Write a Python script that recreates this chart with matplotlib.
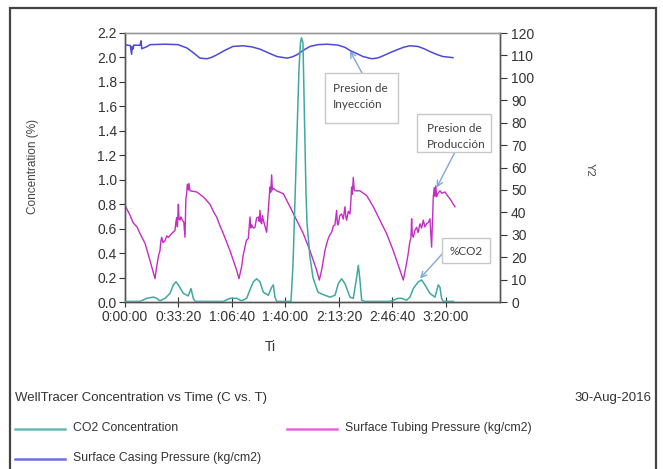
import matplotlib
matplotlib.use("Agg")
import matplotlib.pyplot as plt
import matplotlib.patches as patches
from matplotlib.ticker import FuncFormatter, MultipleLocator

plt.rcParams["font.family"] = ["Liberation Sans", "DejaVu Sans"]

# time in seconds from start of test
t_co2 = [0, 561, 810, 1059, 1184, 1308, 1495, 1682, 1807, 1906, 1994, 2181,
         2367, 2467, 2554, 2617, 2804, 3676, 3925, 4174, 4361, 4548, 4673,
         4797, 4922, 5046, 5171, 5358, 5482, 5545, 5607, 5669, 6105, 6205,
         6280, 6392, 6504, 6560, 6598, 6654, 6710, 6766, 6803, 6915, 7028,
         7214, 7414, 7663, 7850, 7974, 8099, 8224, 8411, 8535, 8660, 8722,
         8784, 8847, 8971, 9906, 10030, 10217, 10342, 10529, 10653, 10778,
         10965, 11090, 11214, 11401, 11588, 11712, 11775, 11837, 11899, 12273]
co2 = [0.005, 0.005, 0.03, 0.04, 0.03, 0.01, 0.03, 0.07, 0.14, 0.165, 0.14,
       0.07, 0.05, 0.11, 0.03, 0.005, 0.005, 0.005, 0.03, 0.03, 0.01, 0.03,
       0.10, 0.165, 0.19, 0.165, 0.08, 0.055, 0.12, 0.14, 0.04, 0.005, 0.005,
       0.005, 0.3, 1.1, 1.9, 2.12, 2.16, 2.12, 1.5, 0.9, 0.65, 0.37, 0.2,
       0.08, 0.06, 0.04, 0.055, 0.15, 0.19, 0.15, 0.04, 0.03, 0.20, 0.30,
       0.18, 0.015, 0.005, 0.005, 0.015, 0.03, 0.03, 0.015, 0.04, 0.11,
       0.165, 0.18, 0.14, 0.07, 0.04, 0.14, 0.12, 0.03, 0.005, 0.005]

t_tub = [0, 187, 300, 374, 450, 561, 748, 934, 1121, 1184, 1260, 1308, 1340,
         1371, 1420, 1495, 1560, 1620, 1682, 1780, 1869, 1900, 1931, 1960,
         1994, 2020, 2056, 2090, 2118, 2200, 2243, 2275, 2305, 2330, 2367,
         2390, 2430, 2679, 2928, 3177, 3300, 3427, 3550, 3676, 3925, 4174,
         4261, 4361, 4420, 4486, 4540, 4610, 4673, 4705, 4735, 4800, 4859,
         4920, 4984, 5020, 5046, 5080, 5109, 5140, 5171, 5296, 5420, 5450,
         5482, 5510, 5545, 5669, 5919, 6168, 6417, 6666, 6915, 7165, 7264,
         7351, 7476, 7540, 7601, 7660, 7725, 7790, 7850, 7912, 7940, 7974,
         8030, 8099, 8160, 8224, 8255, 8286, 8350, 8411, 8440, 8473, 8500,
         8535, 8570, 8597, 8784, 9034, 9283, 9532, 9781, 10030, 10280, 10404,
         10504, 10591, 10650, 10690, 10716, 10740, 10778, 10840, 10903, 10960,
         11027, 11090, 11152, 11210, 11276, 11340, 11401, 11463, 11526, 11560,
         11588, 11620, 11650, 11700, 11775, 11850, 11962, 12050, 12148, 12335]
tub = [43.1, 38.7, 35.5, 34.4, 33.5, 30.5, 26.2, 18.5, 10.4, 15.8, 21.0,
       22.9, 27.0, 28.9, 26.5, 27.3, 29.5, 28.8, 29.7, 31.0, 31.9, 35.5, 37.6,
       33.5, 43.6, 37.0, 36.5, 38.0, 37.1, 35.5, 28.9, 46.0, 48.3, 52.5, 50.0,
       52.9, 49.6, 49.1, 46.9, 43.6, 40.5, 37.9, 34.0, 30.5, 22.9, 14.2, 10.4,
       15.8, 21.0, 24.5, 27.5, 28.4, 37.9, 33.0, 34.4, 33.0, 33.3, 37.5, 37.9,
       36.0, 40.9, 35.5, 34.9, 38.5, 36.5, 31.1, 51.3, 49.0, 56.7, 50.0, 50.7,
       49.6, 48.3, 42.5, 36.5, 30.5, 22.9, 14.2, 9.8, 14.2, 22.9, 26.0, 28.4,
       30.0, 31.1, 34.0, 34.4, 40.9, 35.0, 34.4, 38.5, 39.3, 37.0, 42.5, 38.0,
       36.5, 40.5, 39.3, 44.0, 51.3, 48.0, 55.6, 50.0, 49.6, 49.6, 47.5, 42.5,
       36.5, 30.5, 22.9, 14.2, 9.8, 15.8, 21.8, 27.0, 28.5, 37.1, 30.0, 28.9,
       32.0, 33.3, 31.0, 34.9, 33.0, 36.5, 33.5, 34.9, 35.5, 37.1, 24.5, 46.9,
       51.0, 47.0, 51.8, 46.9, 48.5, 49.6, 48.5, 49.1, 47.5, 46.1, 42.5]

t_cas = [0, 200, 245, 275, 300, 330, 560, 600, 625, 800, 935, 1495, 1981,
         2318, 2542, 2804, 3065, 3252, 3439, 3738, 4037, 4411, 4747, 5046,
         5345, 5682, 6056, 6243, 6429, 6654, 6915, 7214, 7551, 7962, 8224,
         8411, 8672, 8897, 9233, 9457, 9644, 9906, 10168, 10429, 10653,
         10952, 11177, 11401, 11663, 11887, 12261]
cas = [114.7, 114.4, 110.5, 114.0, 112.8, 114.6, 114.5, 116.5, 113.0, 113.8,
       114.8, 115.0, 114.8, 113.3, 111.3, 108.8, 108.5, 109.2, 110.3, 112.3,
       114.0, 114.3, 113.8, 112.8, 111.2, 109.5, 108.8, 109.3, 110.3, 112.2,
       114.0, 114.8, 115.0, 114.6, 113.6, 112.2, 110.8, 109.5, 108.5, 108.9,
       109.8, 111.2, 112.5, 113.7, 114.3, 114.0, 113.0, 111.7, 110.4, 109.5,
       109.0]

x_ticks = [0, 2000, 4000, 6000, 8000, 10000, 12000]

c_co2 = "#3fa9a0"
c_tub = "#c42cc4"
c_cas = "#4a4ad6"


def hms(v, pos=None):
    v = int(round(v))
    return "%d:%02d:%02d" % (v // 3600, (v % 3600) // 60, v % 60)


fig = plt.figure(figsize=(6.63, 4.69), dpi=100)
W, H = 663, 469

# outer frame of the report page
fig.add_artist(patches.Rectangle((10 / W, -0.05), 646 / W, 1.05 - 8 / H,
                                 transform=fig.transFigure, fill=False,
                                 edgecolor="#444444", linewidth=1.6))

ax = fig.add_axes([125 / W, 1 - 302 / H, 375 / W, 269 / H])
ax2 = ax.twinx()

ax.plot(t_co2, co2, color=c_co2, linewidth=1.1, zorder=3)
ax2.plot(t_tub, tub, color=c_tub, linewidth=1.0)
ax2.plot(t_cas, cas, color=c_cas, linewidth=1.1)
ax.set_zorder(ax2.get_zorder() + 1)
ax.patch.set_visible(False)

ax.set_xlim(0, 14020)
ax.set_ylim(0, 2.2)
ax2.set_ylim(0, 120)
ax.set_xticks(x_ticks)
ax.xaxis.set_major_formatter(FuncFormatter(hms))
ax.yaxis.set_major_locator(MultipleLocator(0.2))
ax.yaxis.set_major_formatter(FuncFormatter(lambda v, p: "%.1f" % v))
ax2.yaxis.set_major_locator(MultipleLocator(10))

for a in (ax, ax2):
    for s in a.spines.values():
        s.set_color("#555555")
        s.set_linewidth(1.0)
    a.spines["top"].set_color("#9a9a9a")
ax.tick_params(axis="x", direction="inout", length=7, labelsize=10,
               colors="#333333", pad=2)
ax.tick_params(axis="y", direction="out", length=4, labelsize=10,
               colors="#333333", pad=2)
ax2.tick_params(axis="y", direction="out", length=5, labelsize=10,
                colors="#333333", pad=3)

fig.text(33 / W, 1 - 166 / H, "Concentration (%)", rotation=90,
         ha="center", va="center", fontsize=8.5, color="#444444")
fig.text(590 / W, 1 - 170 / H, "Y2", rotation=-90,
         ha="center", va="center", fontsize=8, color="#444444")
fig.text(270 / W, 1 - 347 / H, "Ti", ha="center", va="center",
         fontsize=10, color="#333333")

# annotation boxes
box_font = ["Lato", "DejaVu Sans"]
boxes = [
    ((325, 73, 73, 50), ["Presion de", "Inyección"], (333, 89, 105),
     (8411, 112.0), (362, 73)),
    ((417, 114, 74, 38), ["Presion de", "Producción"], (427, 128, 145),
     (11650, 51.0), (455, 152)),
    ((442, 238, 48, 25), ["%CO2"], (466, 251, None),
     (11030, 10.5), (443, 253)),
]
for (bx, by, bw, bh), lines, txt, tip, tail in boxes:
    fig.add_artist(patches.Rectangle((bx / W, 1 - (by + bh) / H), bw / W,
                                     bh / H, transform=fig.transFigure,
                                     facecolor="white", edgecolor="#c8c8c8",
                                     linewidth=1.0, zorder=5))
    if len(lines) == 2:
        for ln, yy in zip(lines, txt[1:]):
            fig.text(txt[0] / W, 1 - yy / H, ln, ha="left", va="center",
                     fontsize=8.5, color="#404040", family=box_font, zorder=6)
    else:
        fig.text(txt[0] / W, 1 - txt[1] / H, lines[0], ha="center",
                 va="center", fontsize=8.5, color="#404040", family=box_font,
                 zorder=6)
    ax2.annotate("", xy=tip, xycoords="data", xytext=(tail[0], H - tail[1]),
                 textcoords="figure pixels",
                 arrowprops=dict(arrowstyle="->", color="#7ea8d8", lw=1.0,
                                 shrinkA=0, shrinkB=0))

# report footer and legend
fig.text(15 / W, 1 - 398 / H, "WellTracer Concentration vs Time (C vs. T)",
         ha="left", va="center", fontsize=9.5, color="#333333")
fig.text(651 / W, 1 - 398 / H, "30-Aug-2016", ha="right", va="center",
         fontsize=9.5, color="#333333")

legend_items = [
    ("CO2 Concentration", "#66bcb4", 15, 429),
    ("Surface Tubing Pressure (kg/cm2)", "#e266e2", 287, 429),
    ("Surface Casing Pressure (kg/cm2)", "#6e6ee0", 15, 459),
]
for label, col, lx, ly in legend_items:
    fig.add_artist(plt.Line2D([lx / W, (lx + 50) / W], [1 - ly / H, 1 - ly / H],
                              transform=fig.transFigure, color=col,
                              linewidth=1.8))
    fig.text((lx + 58) / W, 1 - (ly - 1) / H, label, ha="left", va="center",
             fontsize=8.8, color="#333333")

fig.savefig("out.png", dpi=100)
